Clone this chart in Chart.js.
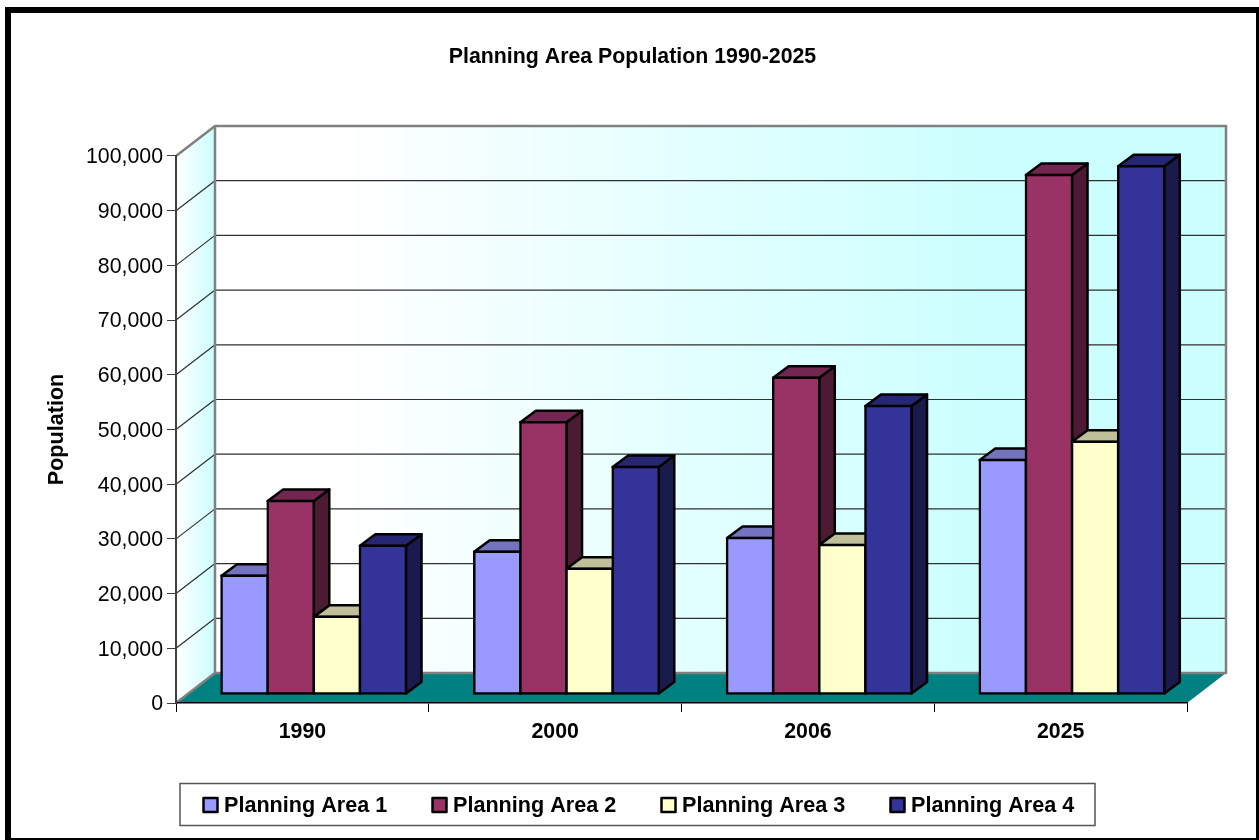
<!DOCTYPE html>
<html>
<head>
<meta charset="utf-8">
<title>Planning Area Population 1990-2025</title>
<script src="https://cdn.jsdelivr.net/npm/chart.js@4"></script>
<style>
  html, body { margin: 0; padding: 0; background: #fff; overflow: hidden; }
  canvas { display: block; }
</style>
</head>
<body>
<canvas id="myChart" width="1259" height="840"></canvas>
<script>
var categories = ["1990", "2000", "2006", "2025"];
var seriesNames = ["Planning Area 1", "Planning Area 2", "Planning Area 3", "Planning Area 4"];
var area1 = [21600, 26000, 28500, 42800];
var area2 = [35300, 49700, 57800, 94900];
var area3 = [14100, 22900, 27250, 46100];
var area4 = [27100, 41500, 52650, 96500];

var frontColors = ["#9999FF", "#993366", "#FFFFCC", "#333399"];
var topColors = ["#7373BF", "#732650", "#BFBF99", "#262673"];
var sideColors = ["#4D4D80", "#4D1A33", "#808066", "#1A1A4D"];

var fontFamily = "'Liberation Sans', Arial, sans-serif";
var fontSize = 21.33;

// depth of the back wall, and of the bars on the floor
var wallX = 39, wallY = 30;
var barShiftX = 11.4, barShiftY = -9;
var barX = 15.5, barY = -11.5;

function polygon(ctx, pts, fill, stroke, width) {
  ctx.beginPath();
  ctx.moveTo(pts[0][0], pts[0][1]);
  for (var i = 1; i < pts.length; i++) {
    ctx.lineTo(pts[i][0], pts[i][1]);
  }
  ctx.closePath();
  if (fill) {
    ctx.fillStyle = fill;
    ctx.fill();
  }
  if (stroke) {
    ctx.strokeStyle = stroke;
    ctx.lineWidth = width;
    ctx.stroke();
  }
}

var room3d = {
  id: "room3d",
  afterLayout: function(chart) {
    // title is centred on the page, not on the plot
    chart.titleBlock.left = 6;
    chart.titleBlock.right = 1259;
  },
  beforeDraw: function(chart) {
    var ctx = chart.ctx;
    var area = chart.chartArea;
    var y = chart.scales.y;
    var l = area.left, r = area.right, t = area.top, b = area.bottom;

    ctx.save();
    ctx.fillStyle = "#fff";
    ctx.fillRect(0, 0, chart.width, chart.height);

    // page frame
    ctx.strokeStyle = "#000";
    ctx.lineWidth = 6;
    ctx.strokeRect(8, 10, 1251, 831);

    // back wall
    var backGrad = ctx.createLinearGradient(l + wallX, 0, r + wallX, 0);
    backGrad.addColorStop(0.12, "#FFFFFF");
    backGrad.addColorStop(0.76, "#CCFFFF");
    ctx.fillStyle = backGrad;
    ctx.fillRect(l + wallX, t - wallY, r - l, b - t);

    // side wall
    var sideGrad = ctx.createLinearGradient(l, 0, l + wallX, 0);
    sideGrad.addColorStop(0, "#FFFFFF");
    sideGrad.addColorStop(1, "#CCFFFF");
    polygon(ctx, [[l, t], [l + wallX, t - wallY], [l + wallX, b - wallY], [l, b]], sideGrad);

    // gridlines on both walls
    ctx.lineJoin = "round";
    y.ticks.forEach(function(tick) {
      if (tick.value == 0 || tick.value == 100000) { return; }
      var py = y.getPixelForValue(tick.value);
      ctx.beginPath();
      ctx.moveTo(l, py);
      ctx.lineTo(l + wallX, py - wallY);
      ctx.lineTo(r + wallX, py - wallY);
      ctx.strokeStyle = "#303030";
      ctx.lineWidth = 1.2;
      ctx.stroke();
    });

    // floor
    polygon(ctx, [[l, b], [l + wallX, b - wallY], [r + wallX, b - wallY], [r, b]], "#008080");

    // wall edges
    ctx.strokeStyle = "#808080";
    ctx.lineWidth = 2.5;
    ctx.strokeRect(l + wallX, t - wallY, r - l, b - t);
    ctx.beginPath();
    ctx.moveTo(l, t);
    ctx.lineTo(l + wallX, t - wallY);
    ctx.moveTo(l, b);
    ctx.lineTo(l + wallX, b - wallY);
    ctx.stroke();
    ctx.restore();
  },
  beforeDatasetsDraw: function(chart) {
    var ctx = chart.ctx;
    ctx.save();
    ctx.translate(barShiftX, barShiftY);
    ctx.lineJoin = "round";
    for (var i = 0; i < chart.data.datasets.length; i++) {
      var meta = chart.getDatasetMeta(i);
      meta.data.forEach(function(bar) {
        var x0 = bar.x - bar.width / 2, x1 = bar.x + bar.width / 2;
        polygon(ctx, [[x1, bar.y], [x1 + barX, bar.y + barY], [x1 + barX, bar.base + barY], [x1, bar.base]],
          sideColors[i], "#000", 2.5);
        polygon(ctx, [[x0, bar.y], [x0 + barX, bar.y + barY], [x1 + barX, bar.y + barY], [x1, bar.y]],
          topColors[i], "#000", 2.5);
      });
      meta.controller.draw();
    }
    ctx.restore();
    return false;
  },
  afterDraw: function(chart) {
    var ctx = chart.ctx;
    ctx.save();
    ctx.fillStyle = "#fff";
    ctx.strokeStyle = "#555";
    ctx.lineWidth = 1.5;
    ctx.fillRect(180, 783.5, 915, 42);
    ctx.strokeRect(180, 783.5, 915, 42);

    ctx.font = "bold 21.6px " + fontFamily;
    ctx.textBaseline = "middle";
    ctx.lineJoin = "round";
    seriesNames.forEach(function(name, i) {
      var x = 203.5 + i * 229;
      ctx.fillStyle = frontColors[i];
      ctx.strokeStyle = "#000";
      ctx.lineWidth = 2.5;
      ctx.fillRect(x, 798, 14, 14);
      ctx.strokeRect(x, 798, 14, 14);
      ctx.fillStyle = "#000";
      ctx.fillText(name, x + 20.5, 806);
    });
    ctx.restore();
  }
};

var seriesValues = [area1, area2, area3, area4];

new Chart(document.getElementById("myChart"), {
  type: "bar",
  plugins: [room3d],
  data: {
    labels: categories,
    datasets: seriesValues.map(function(values, i) {
      return {
        label: seriesNames[i],
        data: values,
        backgroundColor: frontColors[i],
        borderColor: "#000",
        borderWidth: 2.5,
        borderSkipped: false,
        inflateAmount: 1.25,
        categoryPercentage: 0.73,
        barPercentage: 1
      };
    })
  },
  options: {
    responsive: false,
    animation: false,
    layout: { padding: { left: 44, right: 72, top: 0, bottom: 0 } },
    plugins: {
      legend: { display: false },
      tooltip: { enabled: false },
      title: {
        display: true,
        text: "Planning Area Population 1990-2025",
        color: "#000",
        font: { family: fontFamily, size: fontSize, weight: "bold" },
        padding: { top: 44.5, bottom: 85.9 }
      }
    },
    scales: {
      x: {
        afterFit: function(scale) { scale.height = 137; },
        grid: { drawOnChartArea: false, tickLength: 9, color: "#000" },
        border: { color: "#000", width: 1.5 },
        ticks: {
          color: "#000",
          padding: 7,
          maxRotation: 0,
          font: { family: fontFamily, size: fontSize, weight: "bold" }
        }
      },
      y: {
        min: 0,
        max: 100000,
        afterFit: function(scale) { scale.width = 132; },
        grid: { drawOnChartArea: false, tickLength: 9, color: "#404040" },
        border: { color: "#404040", width: 2 },
        title: {
          display: true,
          text: "Population",
          color: "#000",
          padding: 0,
          font: { family: fontFamily, size: 21.6, weight: "bold" }
        },
        ticks: {
          stepSize: 10000,
          color: "#000",
          padding: 4,
          labelOffset: 1.5,
          font: { family: fontFamily, size: fontSize },
          callback: function(value) { return value.toLocaleString("en-US"); }
        }
      }
    }
  }
});
</script>
</body>
</html>
